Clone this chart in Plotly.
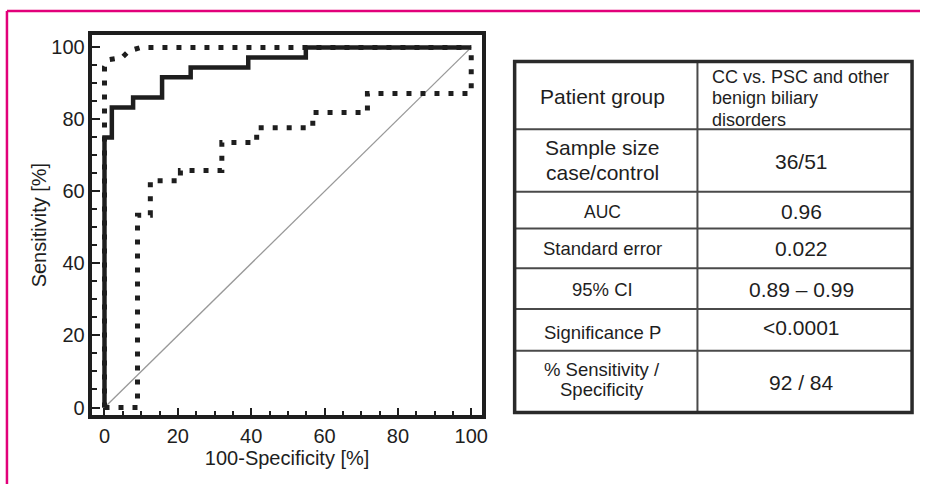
import plotly.graph_objects as go

# ---------------- data ----------------
solid_x = [0, 0, 2.0, 2.0, 7.8, 7.8, 15.7, 15.7, 23.5, 23.5, 39.2, 39.2, 54.9, 54.9, 100]
solid_y = [0, 75.0, 75.0, 83.3, 83.3, 86.1, 86.1, 91.7, 91.7, 94.4, 94.4, 97.2, 97.2, 100, 100]

upper_x = [0, 0, 1.2, 4.8, 6.6, 10.0, 100]
upper_y = [0, 94.6, 96.6, 97.2, 99.0, 100, 100]

lower_x = [0, 9.0, 9.0, 12.5, 12.5, 20.7, 20.7, 32.0, 32.0, 41.5, 41.5, 56.8, 56.8, 71.7, 71.7, 100, 100]
lower_y = [0, 0, 53.4, 53.4, 63.0, 63.0, 65.8, 65.8, 73.6, 73.6, 77.7, 77.7, 81.9, 81.9, 87.2, 87.2, 100]

diag_x = [0, 100]
diag_y = [0, 100]

tick_vals = [0, 20, 40, 60, 80, 100]
tick_text = ["0", "20", "40", "60", "80", "100"]

table_labels = ["Patient group", "Sample size<br>case/control", "AUC", "Standard error",
                "95% CI", "Significance P", "% Sensitivity /<br>Specificity"]
table_values = ["CC vs. PSC and other<br>benign biliary<br>disorders", "36/51", "0.96", "0.022",
                "0.89 \u2013 0.99", "<0.0001", "92 / 84"]

# ---------------- layout helpers ----------------
W, H = 926, 487
FONT = "Liberation Sans, Arial, sans-serif"
INK = "#1e1e1e"


def px(x):
    return x / W


def py(y):
    return 1 - y / H


fig = go.Figure()
fig.add_trace(go.Scatter(x=diag_x, y=diag_y, mode="lines",
                         line=dict(color="#999999", width=1.3), showlegend=False, hoverinfo="skip"))
fig.add_trace(go.Scatter(x=lower_x, y=lower_y, mode="lines",
                         line=dict(color=INK, width=5, dash="5px,9px"), showlegend=False))
fig.add_trace(go.Scatter(x=upper_x, y=upper_y, mode="lines",
                         line=dict(color=INK, width=5, dash="5px,9px"), showlegend=False))
fig.add_trace(go.Scatter(x=solid_x, y=solid_y, mode="lines",
                         line=dict(color=INK, width=4.5), showlegend=False))

axis_common = dict(
    showgrid=False, zeroline=False, showline=True, mirror=True, linewidth=3.5, linecolor=INK,
    ticks="inside", ticklen=8, tickwidth=2, tickcolor=INK,
    tickvals=tick_vals, ticktext=tick_text,
    tickfont=dict(family=FONT, size=20, color=INK),
    minor=dict(dtick=5, ticks="inside", ticklen=5, tickwidth=1.5, tickcolor=INK, showgrid=False),
)

fig.update_layout(
    width=W, height=H,
    margin=dict(l=0, r=0, t=0, b=0),
    paper_bgcolor="white", plot_bgcolor="white",
    font=dict(family=FONT, color=INK),
    xaxis=dict(domain=[px(93), px(485)], range=[-3.3, 102.9],
               title=dict(text="100-Specificity [%]", font=dict(family=FONT, size=20, color=INK), standoff=4),
               **axis_common),
    yaxis=dict(domain=[py(418), py(35)], range=[-2.2, 103.5],
               title=dict(text="Sensitivity [%]", font=dict(family=FONT, size=20, color=INK), standoff=0),
               **axis_common),
)

shapes = []
annotations = []

# pink frame
PINK = "#e2007a"
shapes.append(dict(type="line", xref="paper", yref="paper", x0=px(7), x1=px(926), y0=py(11), y1=py(11),
                   line=dict(color=PINK, width=2.5)))
shapes.append(dict(type="line", xref="paper", yref="paper", x0=px(7), x1=px(7), y0=py(11), y1=py(487),
                   line=dict(color=PINK, width=2.5)))

# table grid
TL, TR, TT, TB, TC = 518, 918, 62, 415, 702
row_edges = [62, 130, 193, 230, 270, 311, 353, 415]
for yy in row_edges[1:-1]:
    shapes.append(dict(type="line", xref="paper", yref="paper", x0=px(TL), x1=px(TR), y0=py(yy), y1=py(yy),
                       line=dict(color="#4a4a4a", width=2)))
shapes.append(dict(type="line", xref="paper", yref="paper", x0=px(TC), x1=px(TC), y0=py(TT), y1=py(TB),
                   line=dict(color="#4a4a4a", width=2)))
shapes.append(dict(type="rect", xref="paper", yref="paper", x0=px(TL), x1=px(TR), y0=py(TT), y1=py(TB),
                   line=dict(color="#2a2a2a", width=3.5)))

label_sizes = [21, 21, 17.5, 18.5, 18.5, 18.5, 18.5]
label_spacing = [0, 25, 0, 0, 0, 0, 20]
label_centers = [97, 161, 213, 250, 291, 335, 382]
value_sizes = [18, 21, 21, 21, 21, 21, 21]
value_centers = [99, 163, 213, 250, 291, 330, 385]

for i, (lab, val) in enumerate(zip(table_labels, table_values)):
    lines = lab.split("<br>")
    n = len(lines)
    for k, ln in enumerate(lines):
        yc = label_centers[i] + (k - (n - 1) / 2) * label_spacing[i]
        annotations.append(dict(xref="paper", yref="paper", x=px(606), y=py(yc), text=ln, showarrow=False,
                                xanchor="center", yanchor="middle",
                                font=dict(family=FONT, size=label_sizes[i], color=INK)))
    vlines = val.split("<br>")
    m = len(vlines)
    for k, ln in enumerate(vlines):
        if m > 1:
            yc = value_centers[i] + (k - (m - 1) / 2) * 21.5
            annotations.append(dict(xref="paper", yref="paper", x=px(715), y=py(yc), text=ln, showarrow=False,
                                    xanchor="left", yanchor="middle",
                                    font=dict(family=FONT, size=value_sizes[i], color=INK)))
        else:
            annotations.append(dict(xref="paper", yref="paper", x=px(807), y=py(value_centers[i]), text=ln,
                                    showarrow=False, xanchor="center", yanchor="middle",
                                    font=dict(family=FONT, size=value_sizes[i], color=INK)))

fig.update_layout(shapes=shapes, annotations=annotations)

fig.write_html("out.html")
